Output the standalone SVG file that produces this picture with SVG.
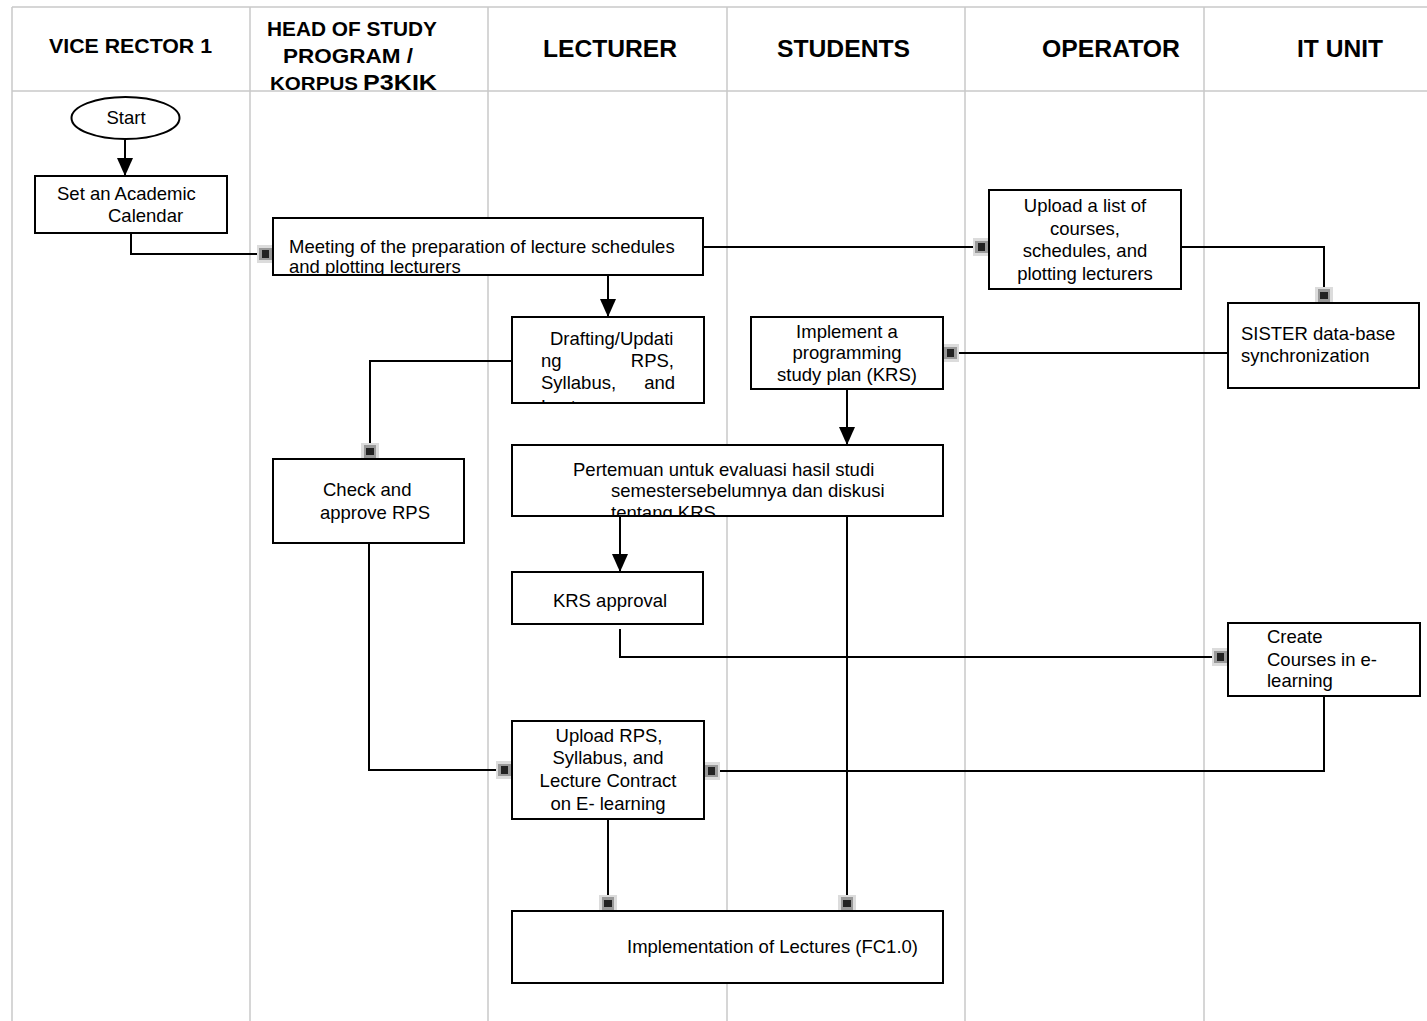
<svg xmlns="http://www.w3.org/2000/svg" width="1427" height="1021" viewBox="0 0 1427 1021">
<style>
.grid{stroke:#c8c8c8;stroke-width:1.5;fill:none}
.hd{font-family:"Liberation Sans",Arial,sans-serif;font-weight:bold;fill:#000}
.box{fill:#fff;stroke:#000;stroke-width:2}
.t{font-family:"Liberation Sans",Arial,sans-serif;font-size:18.5px;fill:#000}
.c{text-anchor:middle}
.con{fill:none;stroke:#000;stroke-width:2}
</style>
<defs>
<marker id="arr" markerUnits="userSpaceOnUse" markerWidth="18" markerHeight="16" viewBox="0 0 18 16" refX="18" refY="8" orient="auto">
<path d="M0,0 L18,8 L0,16 Z" fill="#000"/>
</marker>
<marker id="sq" markerUnits="userSpaceOnUse" markerWidth="16" markerHeight="18" viewBox="0 0 16 18" refX="16" refY="9" orient="auto">
<rect x="0" y="0" width="16" height="18" fill="#dcdcdc"/>
<rect x="2" y="3" width="13" height="12" fill="#999"/>
<rect x="5" y="5" width="7" height="8" fill="#222"/>
</marker>
<clipPath id="clipMeet"><rect x="274" y="219" width="428" height="55"/></clipPath>
<clipPath id="clipDraft"><rect x="513" y="318" width="190" height="84"/></clipPath>
<clipPath id="clipPert"><rect x="513" y="446" width="429" height="69"/></clipPath>
<clipPath id="clipOp"><rect x="990" y="191" width="190" height="97"/></clipPath>
</defs>

<g id="lanes">
<line class="grid" x1="12" y1="7" x2="1427" y2="7"/>
<line class="grid" x1="12" y1="91" x2="1427" y2="91"/>
<line class="grid" x1="12" y1="7" x2="12" y2="1021"/>
<line class="grid" x1="250" y1="7" x2="250" y2="1021"/>
<line class="grid" x1="488" y1="7" x2="488" y2="1021"/>
<line class="grid" x1="727" y1="7" x2="727" y2="1021"/>
<line class="grid" x1="965" y1="7" x2="965" y2="1021"/>
<line class="grid" x1="1204" y1="7" x2="1204" y2="1021"/>
<text class="hd" x="49" y="53" font-size="20" textLength="163" lengthAdjust="spacingAndGlyphs">VICE RECTOR 1</text>
<text class="hd" x="267" y="36" font-size="20" textLength="170" lengthAdjust="spacingAndGlyphs">HEAD OF STUDY</text>
<text class="hd" x="283" y="63" font-size="20" textLength="130" lengthAdjust="spacingAndGlyphs">PROGRAM /</text>
<text class="hd" x="270" y="90" font-size="18" textLength="88" lengthAdjust="spacingAndGlyphs">KORPUS</text>
<text class="hd" x="363" y="90" font-size="22" textLength="74" lengthAdjust="spacingAndGlyphs">P3KIK</text>
<text class="hd" x="543" y="57" font-size="24" textLength="134" lengthAdjust="spacingAndGlyphs">LECTURER</text>
<text class="hd" x="777" y="57" font-size="24" textLength="133" lengthAdjust="spacingAndGlyphs">STUDENTS</text>
<text class="hd" x="1042" y="57" font-size="24" textLength="138" lengthAdjust="spacingAndGlyphs">OPERATOR</text>
<text class="hd" x="1297" y="57" font-size="24" textLength="86" lengthAdjust="spacingAndGlyphs">IT UNIT</text>
</g>

<g id="connectors">
<polyline class="con" points="125,140 125,176" marker-end="url(#arr)"/>
<polyline class="con" points="131,233 131,254 273,254" marker-end="url(#sq)"/>
<polyline class="con" points="703,247 989,247" marker-end="url(#sq)"/>
<polyline class="con" points="1181,247 1324,247 1324,303" marker-end="url(#sq)"/>
<polyline class="con" points="608,275 608,317" marker-end="url(#arr)"/>
<polyline class="con" points="1228,353 943,353" marker-end="url(#sq)"/>
<polyline class="con" points="512,361 370,361 370,459" marker-end="url(#sq)"/>
<polyline class="con" points="847,389 847,445" marker-end="url(#arr)"/>
<polyline class="con" points="620,516 620,572" marker-end="url(#arr)"/>
<polyline class="con" points="847,516 847,911" marker-end="url(#sq)"/>
<polyline class="con" points="620,629 620,657 1228,657" marker-end="url(#sq)"/>
<polyline class="con" points="369,543 369,770 512,770" marker-end="url(#sq)"/>
<polyline class="con" points="1324,696 1324,771 704,771" marker-end="url(#sq)"/>
<polyline class="con" points="608,819 608,911" marker-end="url(#sq)"/>
</g>

<g id="start">
<ellipse class="box" cx="125.5" cy="118" rx="54" ry="21"/>
<text class="t c" x="126" y="124">Start</text>
</g>

<g id="set-calendar">
<rect class="box" x="35" y="176" width="192" height="57"/>
<text class="t" x="57" y="200">Set an Academic</text>
<text class="t" x="108" y="222">Calendar</text>
</g>

<g id="meeting">
<rect class="box" x="273" y="218" width="430" height="57"/>
<g clip-path="url(#clipMeet)">
<text class="t" x="289" y="253">Meeting of the preparation of lecture schedules</text>
<text class="t" x="289" y="273">and plotting lecturers</text>
</g>
</g>

<g id="upload-list">
<rect class="box" x="989" y="190" width="192" height="99"/>
<g clip-path="url(#clipOp)">
<text class="t c" x="1085" y="212">Upload a list of</text>
<text class="t c" x="1085" y="235">courses,</text>
<text class="t c" x="1085" y="257">schedules, and</text>
<text class="t c" x="1085" y="280">plotting lecturers</text>
</g>
</g>

<g id="sister">
<rect class="box" x="1228" y="303" width="191" height="85"/>
<text class="t" x="1241" y="340">SISTER data-base</text>
<text class="t" x="1241" y="362">synchronization</text>
</g>

<g id="drafting">
<rect class="box" x="512" y="317" width="192" height="86"/>
<g clip-path="url(#clipDraft)">
<text class="t" x="550" y="345">Drafting/Updati</text>
<text class="t" x="541" y="367">ng</text>
<text class="t" x="674" y="367" text-anchor="end">RPS,</text>
<text class="t" x="541" y="389">Syllabus,</text>
<text class="t" x="675" y="389" text-anchor="end">and</text>
<text class="t" x="541" y="413">Lecture</text>
</g>
</g>

<g id="implement-krs">
<rect class="box" x="751" y="317" width="192" height="72"/>
<text class="t c" x="847" y="338">Implement a</text>
<text class="t c" x="847" y="359">programming</text>
<text class="t c" x="847" y="381">study plan (KRS)</text>
</g>

<g id="check-rps">
<rect class="box" x="273" y="459" width="191" height="84"/>
<text class="t" x="323" y="496">Check and</text>
<text class="t" x="320" y="519">approve RPS</text>
</g>

<g id="pertemuan">
<rect class="box" x="512" y="445" width="431" height="71"/>
<g clip-path="url(#clipPert)">
<text class="t" x="573" y="476">Pertemuan untuk evaluasi hasil studi</text>
<text class="t" x="611" y="497">semestersebelumnya dan diskusi</text>
<text class="t" x="611" y="519">tentang KRS</text>
</g>
</g>

<g id="krs-approval">
<rect class="box" x="512" y="572" width="191" height="52"/>
<text class="t c" x="610" y="607">KRS approval</text>
</g>

<g id="create-courses">
<rect class="box" x="1228" y="623" width="192" height="73"/>
<text class="t" x="1267" y="643">Create</text>
<text class="t" x="1267" y="666">Courses in e-</text>
<text class="t" x="1267" y="687">learning</text>
</g>

<g id="upload-rps">
<rect class="box" x="512" y="721" width="192" height="98"/>
<text class="t c" x="609" y="742">Upload RPS,</text>
<text class="t c" x="608" y="764">Syllabus, and</text>
<text class="t c" x="608" y="787">Lecture Contract</text>
<text class="t c" x="608" y="810">on E- learning</text>
</g>

<g id="implementation">
<rect class="box" x="512" y="911" width="431" height="72"/>
<text class="t" x="627" y="953">Implementation of Lectures (FC1.0)</text>
</g>
</svg>
